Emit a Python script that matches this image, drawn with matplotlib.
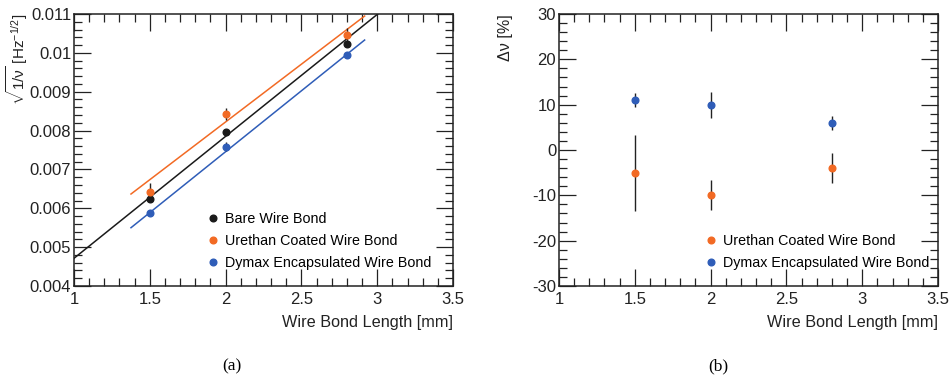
import numpy as np
import matplotlib
matplotlib.use("Agg")
import matplotlib.pyplot as plt
from matplotlib.ticker import MultipleLocator

plt.rcParams['font.family'] = ['Liberation Sans', 'DejaVu Sans']
plt.rcParams['mathtext.fontset'] = 'custom'
plt.rcParams['mathtext.rm'] = 'Liberation Sans'
plt.rcParams['mathtext.it'] = 'Liberation Sans'
plt.rcParams['mathtext.bf'] = 'Liberation Sans:bold'

# ---------------- data ----------------
length = [1.5, 2.0, 2.8]
labels = ["Bare Wire Bond", "Urethan Coated Wire Bond", "Dymax Encapsulated Wire Bond"]
colors = ["#1a1a1a", "#f26a24", "#2f5db8"]

bare_val = [0.00625, 0.00797, 0.01024]
bare_err = [0.00005, 0.00005, 0.00005]
ureth_val = [0.00641, 0.00843, 0.01047]
ureth_err = [0.00023, 0.00016, 0.00016]
dymax_val = [0.00589, 0.00759, 0.00995]
dymax_err = [0.00006, 0.00012, 0.00008]

# linear fits: slope, intercept, x range
fit_slope = [0.003138, 0.002972, 0.003134]
fit_intercept = [0.001575, 0.002278, 0.001188]
fit_xmin = [1.0, 1.376, 1.376]
fit_xmax = [3.5, 2.917, 2.917]

ureth_dev = [-5, -10, -4]
ureth_dev_err = [8.4, 3.3, 3.3]
dymax_dev = [11, 10, 6]
dymax_dev_err = [1.55, 2.9, 1.6]

xticks = [1, 1.5, 2, 2.5, 3, 3.5]
xticklabels = ["1", "1.5", "2", "2.5", "3", "3.5"]
yticks_a = [0.004, 0.005, 0.006, 0.007, 0.008, 0.009, 0.01, 0.011]
yticklabels_a = ["0.004", "0.005", "0.006", "0.007", "0.008", "0.009", "0.01", "0.011"]
yticks_b = [-30, -20, -10, 0, 10, 20, 30]
yticklabels_b = ["-30", "-20", "-10", "0", "10", "20", "30"]

# ---------------- figure ----------------
fig = plt.figure(figsize=(9.52, 3.81), dpi=100)
axa = fig.add_axes([74/952, 1-286/381, 379/952, 272/381])
axb = fig.add_axes([559/952, 1-286/381, 379/952, 272/381])


def style(ax, yminor):
    ax.set_xlim(1, 3.5)
    ax.set_xticks(xticks)
    ax.set_xticklabels(xticklabels)
    ax.xaxis.set_minor_locator(MultipleLocator(0.1))
    ax.yaxis.set_minor_locator(MultipleLocator(yminor))
    ax.tick_params(which='both', direction='in', top=True, right=True,
                   width=0.9, colors='#222222', labelcolor='#222222')
    ax.tick_params(which='major', length=12, labelsize=12)
    ax.tick_params(which='minor', length=6)
    ax.tick_params(axis='y', pad=2)
    ax.tick_params(axis='x', pad=4)
    for s in ax.spines.values():
        s.set_linewidth(1.1)
        s.set_color('#222222')
    ax.set_xlabel("Wire Bond Length [mm]", fontsize=11.7, loc='right', color='#222222')
    ax.xaxis.set_label_coords(1.0, -0.105)


# panel (a)
vals = [bare_val, ureth_val, dymax_val]
errs = [bare_err, ureth_err, dymax_err]
for i in range(3):
    xs = np.array([fit_xmin[i], fit_xmax[i]])
    axa.plot(xs, fit_slope[i] * xs + fit_intercept[i], color=colors[i], lw=1.1, zorder=2)
handles = []
for i in range(3):
    axa.errorbar(length, vals[i], yerr=errs[i], fmt='none', ecolor='#222222',
                 elinewidth=1.0, capsize=0, zorder=3)
    h, = axa.plot(length, vals[i], 'o', color=colors[i], ms=4.8, zorder=4,
                  label=labels[i], linestyle='none')
    handles.append(h)
axa.set_ylim(0.004, 0.011)
axa.set_yticks(yticks_a)
axa.set_yticklabels(yticklabels_a)
style(axa, 0.0002)
axa.set_ylabel(r"$\sqrt{1/\nu}$ [Hz$^{-1/2}$]", fontsize=11, loc='top', color='#222222')
axa.yaxis.set_label_coords(-0.117, 1.0)
axa.legend(handles=handles, loc='upper left', bbox_to_anchor=(0.355, 0.272),
           frameon=False, fontsize=10.3, handlelength=0.6, handletextpad=0.55,
           labelspacing=0.56, borderpad=0, borderaxespad=0)

# panel (b)
hb = []
for v, e, c, lab in [(ureth_dev, ureth_dev_err, colors[1], labels[1]),
                     (dymax_dev, dymax_dev_err, colors[2], labels[2])]:
    axb.errorbar(length, v, yerr=e, fmt='none', ecolor='#222222',
                 elinewidth=1.0, capsize=0, zorder=3)
    h, = axb.plot(length, v, 'o', color=c, ms=4.8, zorder=4, label=lab, linestyle='none')
    hb.append(h)
axb.set_ylim(-30, 30)
axb.set_yticks(yticks_b)
axb.set_yticklabels(yticklabels_b)
style(axb, 2)
axb.set_ylabel("Δν [%]", fontsize=11.5, loc='top', color='#222222')
axb.yaxis.set_label_coords(-0.121, 1.0)
axb.legend(handles=hb, loc='upper left', bbox_to_anchor=(0.39, 0.19),
           frameon=False, fontsize=10.3, handlelength=0.6, handletextpad=0.55,
           labelspacing=0.56, borderpad=0, borderaxespad=0)

fig.text(232/952, 1-366/381, "(a)", fontsize=12.5, family='Liberation Serif',
         ha='center', va='center')
fig.text(718/952, 1-366/381, "(b)", fontsize=12.5, family='Liberation Serif',
         ha='center', va='center')

fig.savefig("out.png", dpi=100)
